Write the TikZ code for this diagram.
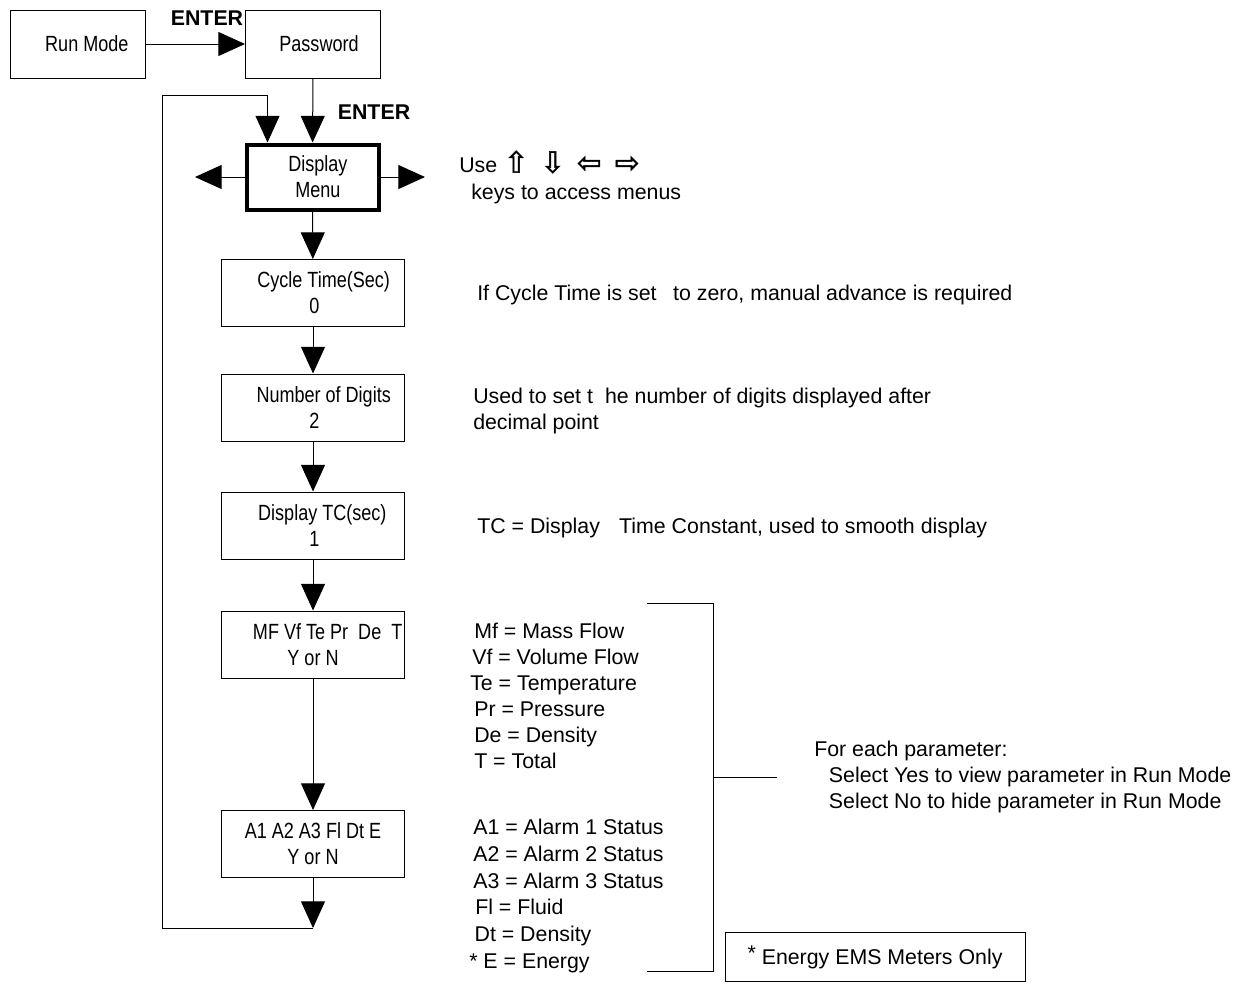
\documentclass[tikz,border=0pt]{standalone}
\usepackage{fontspec}
\setmainfont{Liberation Sans}
\newfontfamily\narrowfont[FakeStretch=0.82]{Liberation Sans}
\newfontfamily\keyfont[FakeBold=1.5]{DejaVu Sans}
\usetikzlibrary{arrows.meta,positioning}
\tikzset{
  menubox/.style={draw,line width=0.75pt,minimum width=137.25pt,minimum height=50.25pt,inner sep=0pt,align=center,font=\narrowfont\fontsize{16.5}{19.5}\selectfont},
  topbox/.style={menubox,minimum width=101.25pt,minimum height=51pt},
  arr/.style={line width=0.75pt,-{Triangle[width=18pt,length=20pt]}},
  note/.style={anchor=west,inner sep=0.75pt,align=left,font=\fontsize{16}{19.5}\selectfont},
  enterlabel/.style={inner sep=0.75pt,font=\bfseries\fontsize{16}{19.5}\selectfont},
}
\begin{document}
\begin{tikzpicture}[x=0.75pt,y=0.75pt,yscale=-1,xscale=1]
        \useasboundingbox (0,0) rectangle (1244,983);
        \node[topbox] (runmode) at (77.5,44) {\hspace{14pt}Run Mode};
        \node[topbox] (password) at (313,44) {\hspace{9pt}Password};
        \node[topbox,line width=3pt,minimum width=99pt,minimum height=48.75pt] (dispmenu) at (312.5,177) {\hspace{8pt}Display\\\hspace{8pt}Menu};
        \node[menubox] (cycle) at (313,293) {\hspace{16pt}Cycle Time(Sec)\\\hspace{2pt}0};
        \node[menubox] (digits) at (313,407.5) {\hspace{16pt}Number of Digits\\\hspace{2pt}2};
        \node[menubox] (disptc) at (313,525.5) {\hspace{14pt}Display TC(sec)\\\hspace{2pt}1};
        \node[menubox] (mfsel) at (313,644.5) {\hspace{22pt}MF Vf Te Pr\ \ De\ \ T\\Y or N};
        \node[menubox] (alsel) at (313,844) {A1 A2 A3 Fl Dt E\\Y or N};
        \node[enterlabel] (enterone) at (207,18) {ENTER};
        \node[enterlabel] (entertwo) at (374,112) {ENTER};
        \coordinate (menuleft) at (195,177);
        \coordinate (menuright) at (425,177);
        \coordinate (loopend) at (313,928);
        \coordinate (loopbl) at (162,928);
        \coordinate (looptl) at (162,95);
        \draw[arr] (runmode) -- (password);
        \draw[arr] (password) -- (dispmenu);
        \draw[arr] (dispmenu) -- (menuleft);
        \draw[arr] (dispmenu) -- (menuright);
        \draw[arr] (dispmenu) -- (cycle);
        \draw[arr] (cycle) -- (digits);
        \draw[arr] (digits) -- (disptc);
        \draw[arr] (disptc) -- (mfsel);
        \draw[arr] (mfsel) -- (alsel);
        \draw[arr] (alsel) -- (loopend);
        \draw[arr] (loopend) -- (loopbl) -- (looptl) -| ([xshift=-33.75pt]dispmenu.north);
        \node[note,inner sep=0pt] (usekeys) at (459,162) {Use\hspace{5pt}{\keyfont\fontsize{22}{22}\selectfont ⇧\hspace{9pt}⇩\hspace{9pt}⇦\hspace{10pt}⇨}};
        \node[note] (keystext) at (470,194) {keys to access menus};
        \node[note] (cyclenote) at (476,295) {If Cycle Time is set\hspace{8pt} to zero, manual advance is required};
        \node[note] (digitnote) at (472,411) {Used to set t\hspace{9pt}he number of digits displayed after\\decimal point};
        \node[note] (tcnote) at (476,528) {TC = Display\hspace{10pt} Time Constant, used to smooth display};
        \node[note] (mflist) at (469,696) {\hspace{3pt}Mf = Mass Flow\\\hspace{1.5pt}Vf = Volume Flow\\Te = Temperature\\\hspace{3pt}Pr = Pressure\\\hspace{3pt}De = Density\\\hspace{3pt}T = Total};
        \node[note,font=\fontsize{16}{20}\selectfont] (alist) at (468,896) {\hspace{3pt}A1 = Alarm 1 Status\\\hspace{3pt}A2 = Alarm 2 Status\\\hspace{3pt}A3 = Alarm 3 Status\\\hspace{4.5pt}Fl = Fluid\\\hspace{4pt}Dt = Density\\* E = Energy};
        \node[note] (paramnote) at (813,777) {For each parameter:\\\hspace{11pt}Select Yes to view parameter in Run Mode\\\hspace{11pt}Select No to hide parameter in Run Mode};
        \node[draw,line width=0.75pt,minimum width=225pt,minimum height=36.75pt,font=\fontsize{16}{19.5}\selectfont] (emsnote) at (875,957) {\raisebox{3pt}{*} Energy EMS Meters Only};
        \coordinate (brtop) at (647,603);
        \coordinate (brbot) at (647,971);
        \coordinate (brmid) at (713,777);
        \coordinate (brtip) at (777,777);
        \draw[line width=0.75pt] (brtop) -- ++(66,0) |- (brbot);
        \draw[line width=0.75pt] (brmid) -- (brtip);
    \end{tikzpicture}
\end{document}
